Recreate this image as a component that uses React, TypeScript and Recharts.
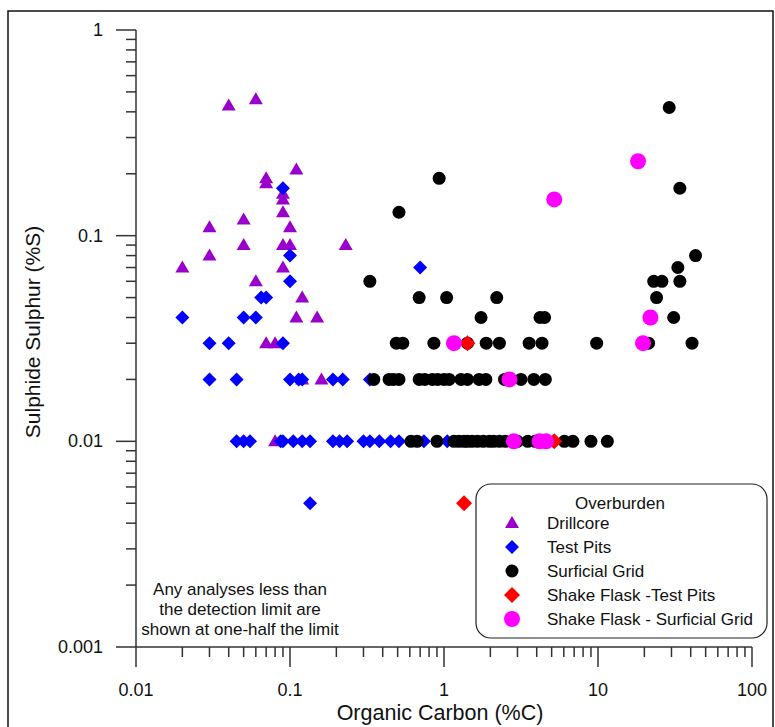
import { Scatter, ScatterChart, XAxis, YAxis } from 'recharts'

// [organic carbon %C, sulphide sulphur %S]
const drillcore: [number, number][] = [
  [0.04, 0.43], [0.06, 0.46], [0.11, 0.21], [0.07, 0.19], [0.07, 0.18],
  [0.09, 0.16], [0.09, 0.15], [0.09, 0.13], [0.05, 0.12], [0.03, 0.11],
  [0.1, 0.11], [0.05, 0.09], [0.09, 0.09], [0.1, 0.09], [0.23, 0.09],
  [0.03, 0.08], [0.02, 0.07], [0.09, 0.07], [0.06, 0.06], [0.12, 0.05],
  [0.11, 0.04], [0.15, 0.04], [0.07, 0.03], [0.08, 0.03], [0.12, 0.02],
  [0.16, 0.02], [0.08, 0.01],
]

const testPits: [number, number][] = [
  [0.09, 0.17], [0.1, 0.08], [0.7, 0.07], [0.1, 0.06], [0.065, 0.05], [0.07, 0.05],
  [0.02, 0.04], [0.05, 0.04], [0.06, 0.04], [0.03, 0.03], [0.04, 0.03], [0.09, 0.03],
  [0.03, 0.02], [0.045, 0.02], [0.1, 0.02], [0.114, 0.02], [0.12, 0.02],
  [0.19, 0.02], [0.22, 0.02], [0.33, 0.02],
  [0.045, 0.01], [0.05, 0.01], [0.055, 0.01], [0.087, 0.01], [0.09, 0.01],
  [0.105, 0.01], [0.12, 0.01], [0.135, 0.01], [0.19, 0.01], [0.21, 0.01],
  [0.235, 0.01], [0.3, 0.01], [0.33, 0.01], [0.38, 0.01], [0.45, 0.01],
  [0.51, 0.01], [0.74, 0.01], [1.05, 0.01],
  [0.135, 0.005],
]

const surficialGrid: [number, number][] = [
  [29, 0.42], [0.93, 0.19], [34, 0.17], [0.51, 0.13], [43, 0.08], [33, 0.07],
  [0.33, 0.06], [23, 0.06], [26, 0.06], [34, 0.06],
  [0.69, 0.05], [1.04, 0.05], [2.2, 0.05], [24, 0.05],
  [1.74, 0.04], [4.2, 0.04], [4.5, 0.04], [31, 0.04],
  [0.49, 0.03], [0.54, 0.03], [0.86, 0.03], [1.42, 0.03], [1.88, 0.03], [2.29, 0.03],
  [3.57, 0.03], [4.33, 0.03], [9.8, 0.03], [21.3, 0.03], [40.8, 0.03],
  [0.35, 0.02], [0.44, 0.02], [0.47, 0.02], [0.51, 0.02], [0.69, 0.02], [0.75, 0.02],
  [0.84, 0.02], [0.91, 0.02], [1.0, 0.02], [1.08, 0.02], [1.29, 0.02], [1.42, 0.02],
  [1.69, 0.02], [1.87, 0.02], [2.47, 0.02], [3.16, 0.02], [3.83, 0.02], [4.55, 0.02],
  [0.61, 0.01], [0.67, 0.01], [0.9, 0.01], [1.16, 0.01], [1.25, 0.01], [1.35, 0.01],
  [1.42, 0.01], [1.52, 0.01], [1.65, 0.01], [1.8, 0.01], [1.97, 0.01], [2.1, 0.01],
  [2.29, 0.01], [2.5, 0.01], [3.0, 0.01], [3.5, 0.01], [3.9, 0.01], [4.4, 0.01],
  [6.05, 0.01], [6.87, 0.01], [9.0, 0.01], [11.5, 0.01],
]

const flaskTestPits: [number, number][] = [[1.42, 0.03], [5.2, 0.01], [1.35, 0.005]]

const flaskSurficial: [number, number][] = [
  [18.2, 0.23], [5.2, 0.15], [21.9, 0.04], [1.16, 0.03], [19.6, 0.03],
  [2.66, 0.02], [2.84, 0.01], [4.17, 0.01], [4.6, 0.01],
]

const xMajor = [0.01, 0.1, 1, 10, 100]
const yMajor = [0.001, 0.01, 0.1, 1]

const withMinors = (majors: number[]) => {
  const out: number[] = []
  majors.forEach((m, i) => {
    out.push(m)
    if (i < majors.length - 1) for (let k = 2; k <= 9; k++) out.push(+(m * k).toPrecision(6))
  })
  return out
}
const xTicks = withMinors(xMajor)
const yTicks = withMinors(yMajor)

const toPts = (arr: [number, number][]) => arr.map(([x, y]) => ({ x, y }))

const FONT = '"Liberation Sans", Arial, sans-serif'
const AXIS = '#333'

const isMajor = (v: number) => Math.abs(Math.log10(v) - Math.round(Math.log10(v))) < 1e-6

const Tri = ({ cx, cy }: any) => (
  <polygon points={`${cx},${cy - 7} ${cx - 7},${cy + 5} ${cx + 7},${cy + 5}`} fill="#9900cc" />
)
const Diamond = ({ cx, cy, r = 7, fill }: any) => (
  <polygon points={`${cx},${cy - r} ${cx + r},${cy} ${cx},${cy + r} ${cx - r},${cy}`} fill={fill} />
)
const Dot = ({ cx, cy, r, fill }: any) => <circle cx={cx} cy={cy} r={r} fill={fill} />

const XTick = ({ x, y, payload }: any) => {
  const major = isMajor(payload.value)
  return (
    <g>
      <line x1={x} x2={x} y1={y} y2={y + (major ? 20 : 10)} stroke={AXIS} strokeWidth={1.5} />
      {major && (
        <text x={x} y={y + 43} textAnchor="middle" dominantBaseline="central" fontSize={18} fill="#111" fontFamily={FONT}>
          {String(payload.value)}
        </text>
      )}
    </g>
  )
}

const YTick = ({ x, y, payload }: any) => {
  const major = isMajor(payload.value)
  return (
    <g>
      <line x1={x} x2={x - (major ? 20 : 10)} y1={y} y2={y} stroke={AXIS} strokeWidth={1.5} />
      {major && (
        <text x={x - 33} y={y} textAnchor="end" dominantBaseline="central" fontSize={18} fill="#111" fontFamily={FONT}>
          {String(payload.value)}
        </text>
      )}
    </g>
  )
}

const legendRows = [
  { label: 'Drillcore', marker: (cx: number, cy: number) => <Tri cx={cx} cy={cy} /> },
  { label: 'Test Pits', marker: (cx: number, cy: number) => <Diamond cx={cx} cy={cy} fill="#0000ff" /> },
  { label: 'Surficial Grid', marker: (cx: number, cy: number) => <Dot cx={cx} cy={cy} r={6.5} fill="#000" /> },
  { label: 'Shake Flask -Test Pits', marker: (cx: number, cy: number) => <Diamond cx={cx} cy={cy} r={8} fill="#ff0000" /> },
  { label: 'Shake Flask - Surficial Grid', marker: (cx: number, cy: number) => <Dot cx={cx} cy={cy} r={8} fill="#ff00ff" /> },
]

const noteLines = ['Any analyses less than', 'the detection limit are', 'shown at one-half the limit']

export default function App() {
  return (
    <div style={{ position: 'absolute', left: 0, top: 0, width: 775, height: 727, background: '#fff' }}>
      <ScatterChart width={775} height={727} margin={{ top: 30, right: 23, bottom: 0, left: 0 }}>
        <XAxis
          type="number"
          dataKey="x"
          scale="log"
          domain={[0.01, 100]}
          allowDataOverflow
          ticks={xTicks}
          interval={0}
          height={80}
          tickSize={0}
          tickMargin={0}
          tickLine={false}
          axisLine={{ stroke: AXIS, strokeWidth: 1.5 }}
          tick={<XTick />}
        />
        <YAxis
          type="number"
          dataKey="y"
          scale="log"
          domain={[0.001, 1]}
          allowDataOverflow
          ticks={yTicks}
          interval={0}
          width={136}
          tickSize={0}
          tickMargin={0}
          tickLine={false}
          axisLine={{ stroke: AXIS, strokeWidth: 1.5 }}
          tick={<YTick />}
        />
        <Scatter data={toPts(drillcore)} isAnimationActive={false} shape={(p: any) => <Tri cx={p.cx} cy={p.cy} />} />
        <Scatter data={toPts(testPits)} isAnimationActive={false} shape={(p: any) => <Diamond cx={p.cx} cy={p.cy} fill="#0000ff" />} />
        <Scatter data={toPts(surficialGrid)} isAnimationActive={false} shape={(p: any) => <Dot cx={p.cx} cy={p.cy} r={6.5} fill="#000" />} />
        <Scatter data={toPts(flaskTestPits)} isAnimationActive={false} shape={(p: any) => <Diamond cx={p.cx} cy={p.cy} r={8} fill="#ff0000" />} />
        <Scatter data={toPts(flaskSurficial)} isAnimationActive={false} shape={(p: any) => <Dot cx={p.cx} cy={p.cy} r={8} fill="#ff00ff" />} />
      </ScatterChart>
      <svg width={775} height={727} style={{ position: 'absolute', left: 0, top: 0, pointerEvents: 'none' }} fontFamily={FONT}>
        <rect x={8} y={11} width={765} height={800} fill="none" stroke="#111" strokeWidth={1.5} />
        <text x={32} y={332} transform="rotate(-90 32 332)" textAnchor="middle" dominantBaseline="central" fontSize={21} fill="#111">
          Sulphide Sulphur (%S)
        </text>
        <text x={440} y={713} textAnchor="middle" dominantBaseline="central" fontSize={21.5} fill="#111">
          Organic Carbon (%C)
        </text>
        {noteLines.map((t, i) => (
          <text key={t} x={240} y={589 + i * 20} textAnchor="middle" dominantBaseline="central" fontSize={17} fill="#111">
            {t}
          </text>
        ))}
        <rect x={476} y={484} width={291} height={154} rx={15} fill="#fff" stroke="#222" strokeWidth={1.2} />
        <text x={620} y={503} textAnchor="middle" dominantBaseline="central" fontSize={17} fill="#111">
          Overburden
        </text>
        {legendRows.map((r, i) => (
          <g key={r.label}>
            {r.marker(512, 523 + i * 24)}
            <text x={547} y={523 + i * 24} dominantBaseline="central" fontSize={17} fill="#111">
              {r.label}
            </text>
          </g>
        ))}
      </svg>
    </div>
  )
}
